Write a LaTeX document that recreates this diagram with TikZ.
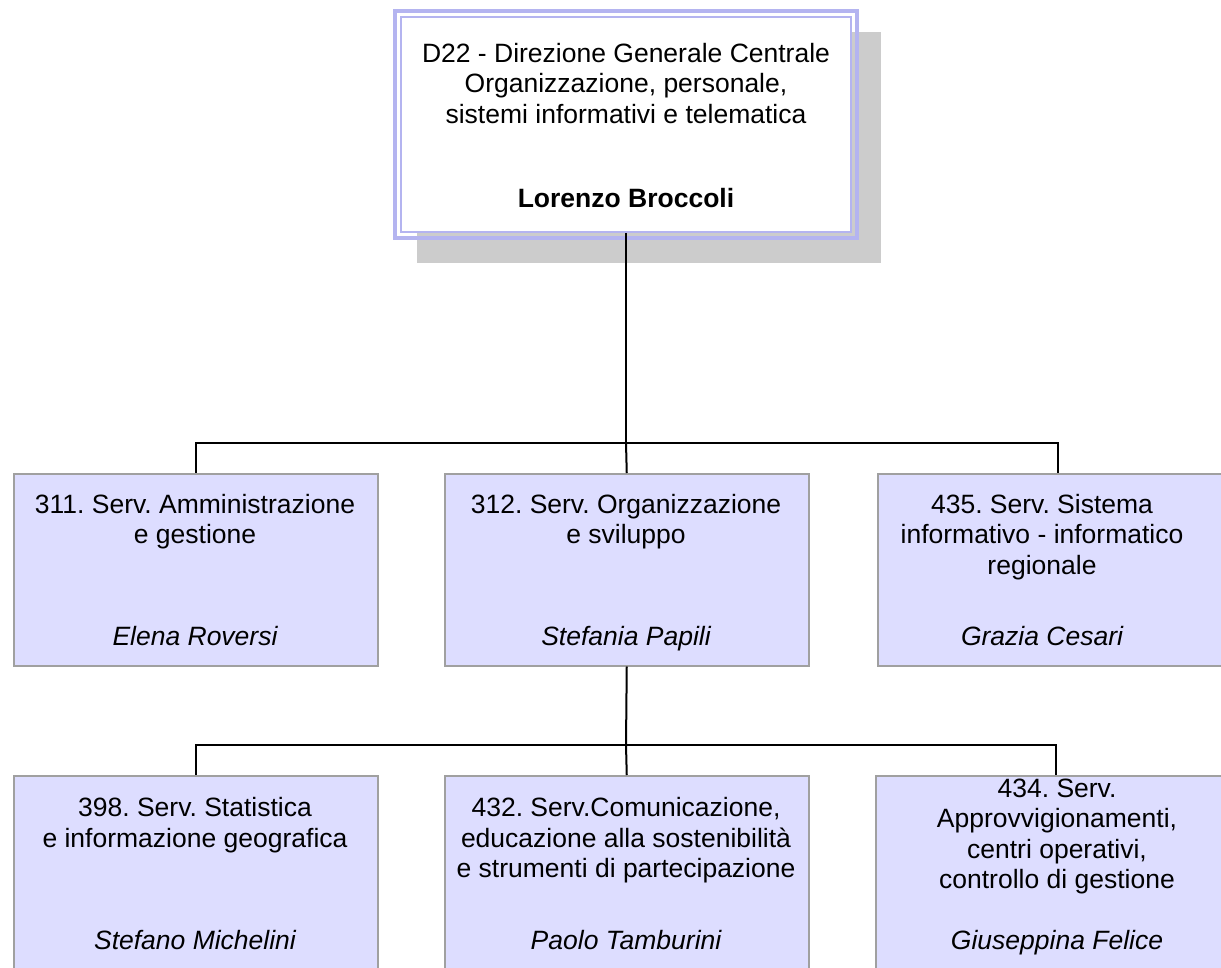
\documentclass[tikz,border=0pt]{standalone}
\usepackage{fontspec}
\setmainfont{Liberation Sans}
\frenchspacing
\definecolor{boxfill}{RGB}{221,221,255}
\definecolor{boxline}{RGB}{160,160,160}
\definecolor{lav}{RGB}{180,180,240}
\definecolor{shadowgray}{RGB}{204,204,204}
\tikzset{
  unit/.style={draw=boxline, line width=1.5pt, fill=boxfill, minimum width=364pt, anchor=north west, inner sep=0pt},
  txt/.style={align=center, inner sep=0pt, font=\fontsize{26.5}{30.5}\selectfont},
  who/.style={inner sep=0pt, anchor=base, font=\fontsize{26.5}{30.5}\selectfont\itshape},
  conn/.style={draw=black, line width=2pt}
}
\begin{document}
\begin{tikzpicture}[x=1pt,y=-1pt]
\clip (0,0) rectangle (1221,968);
\fill[white] (0,0) rectangle (1221,968);
% top box
\fill[shadowgray] (417,32) rectangle (881,263);
\node[draw=lav, line width=2pt, fill=white, minimum width=450pt, minimum height=215pt, inner sep=0pt] (top) at (626,124.5) {};
\draw[lav, line width=4pt] ([shift={(-5pt,5pt)}]top.north west) rectangle ([shift={(5pt,-5pt)}]top.south east);
\node[txt, anchor=north] (toptxt) at (626,43) {D22 - Direzione Generale Centrale\\Organizzazione, personale,\\sistemi informativi e telematica};
\node[who, font=\fontsize{26.5}{30.5}\selectfont\bfseries] (topname) at (626,208) {Lorenzo Broccoli};
% row 1
\node[unit, minimum height=192pt] (a1) at (13,473) {};
\node[unit, minimum height=192pt] (a2) at (444,473) {};
\node[unit, minimum height=192pt] (a3) at (877,473) {};
\node[txt, anchor=north] (a1t) at (195,494) {311. Serv. Amministrazione\\e gestione};
\node[who] (a1n) at (195,645.5) {Elena Roversi};
\node[txt, anchor=north] (a2t) at (626,494) {312. Serv. Organizzazione\\e sviluppo};
\node[who] (a2n) at (626,645.5) {Stefania Papili};
\node[txt, anchor=north] (a3t) at (1042,494) {435. Serv. Sistema\\informativo - informatico\\regionale};
\node[who] (a3n) at (1042,645.5) {Grazia Cesari};
% row 2
\node[unit, minimum height=210pt] (c1) at (13,775) {};
\node[unit, minimum height=210pt] (c2) at (444,775) {};
\node[unit, minimum height=210pt] (c3) at (875,775) {};
\node[txt, anchor=north] (c1t) at (195,797.5) {398. Serv. Statistica\\e informazione geografica};
\node[who] (c1n) at (195,949.5) {Stefano Michelini};
\node[txt, anchor=north] (c2t) at (626,797.5) {432. Serv.Comunicazione,\\educazione alla sostenibilità\\e strumenti di partecipazione};
\node[who] (c2n) at (626,949.5) {Paolo Tamburini};
\node[txt, anchor=north] (c3t) at (1057,778.5) {434. Serv.\\Approvvigionamenti,\\centri operativi,\\controllo di gestione};
\node[who] (c3n) at (1057,949.5) {Giuseppina Felice};
% connectors
\coordinate (j1) at (626,443);
\coordinate (j2) at (626,745);
\draw[conn] (top.south) -- (j1);
\draw[conn] (j1) -| (a1.north);
\draw[conn] (j1) -| ([xshift=-2pt]a3.north);
\draw[conn] (j1) -- (a2.north);
\draw[conn] (a2.south) -- (j2);
\draw[conn] (j2) -| (c1.north);
\draw[conn] (j2) -| ([xshift=-2pt]c3.north);
\draw[conn] (j2) -- (c2.north);
\end{tikzpicture}
\end{document}
